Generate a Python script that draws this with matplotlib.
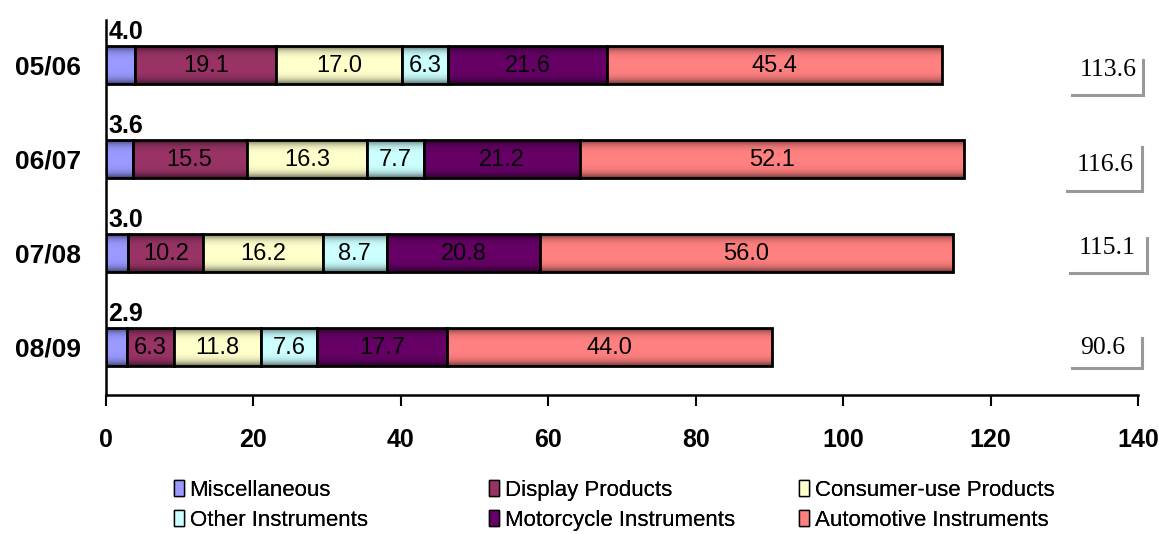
import numpy as np
import matplotlib
matplotlib.use("Agg")
import matplotlib.pyplot as plt
from matplotlib.patches import Patch
from matplotlib.lines import Line2D

periods = ["05/06", "06/07", "07/08", "08/09"]
series = ["Miscellaneous", "Display Products", "Consumer-use Products",
          "Other Instruments", "Motorcycle Instruments", "Automotive Instruments"]
misc = [4.0, 3.6, 3.0, 2.9]
display = [19.1, 15.5, 10.2, 6.3]
consumer = [17.0, 16.3, 16.2, 11.8]
other = [6.3, 7.7, 8.7, 7.6]
motorcycle = [21.6, 21.2, 20.8, 17.7]
automotive = [45.4, 52.1, 56.0, 44.0]
totals = ["113.6", "116.6", "115.1", "90.6"]
colors = ["#9999FF", "#993366", "#FFFFCC", "#CCFFFF", "#660066", "#FF8080"]

SANS = ["Liberation Sans", "DejaVu Sans"]

fig = plt.figure(figsize=(11.59, 5.34), dpi=100)
ax = fig.add_axes([106 / 1159, 1 - 395 / 534, (1138 - 106) / 1159, (395 - 20) / 534])

# vertical shading used to fake the 3D-ish bar edges
grad = np.linspace(-1, 1, 64)[:, None]
shade = np.zeros((64, 1, 4))
shade[..., 3] = (np.abs(grad) ** 4) * 0.6

data = [misc, display, consumer, other, motorcycle, automotive]
ypos = np.arange(len(periods))[::-1]
h = 0.40
left = np.zeros(len(periods))
for i, (vals, c) in enumerate(zip(data, colors)):
    vals = np.array(vals)
    bars = ax.barh(ypos, vals, h, left=left, color=c, edgecolor="black", lw=2.0, zorder=3)
    for b in bars:
        x0, y0 = b.get_x(), b.get_y()
        im = ax.imshow(shade, extent=(x0, x0 + b.get_width(), y0, y0 + b.get_height()),
                       aspect="auto", zorder=3.5, interpolation="bilinear")
        im.set_clip_path(b)
    for y, l, v in zip(ypos, left, vals):
        if i == 0:
            ax.text(l + 0.3, y + h / 2 + 0.02, f"{v:.1f}", ha="left", va="bottom",
                    fontsize=18, fontweight="bold", family=SANS, zorder=4)
        else:
            ax.text(l + v / 2, y - 0.01, f"{v:.1f}", ha="center", va="center",
                    fontsize=17, family=SANS, zorder=4)
    left = left + vals

ax.set_xlim(0, 140)
ax.set_ylim(-0.51, 3.48)
ax.set_xticks(np.arange(0, 141, 20))
ax.set_yticks(ypos)
ax.set_yticklabels(periods, fontsize=19, fontweight="bold", family=SANS)
for t in ax.get_xticklabels():
    t.set_fontsize(18); t.set_fontweight("bold"); t.set_family(SANS)
ax.tick_params(axis="x", direction="out", length=8, width=1.5, pad=16)
ax.tick_params(axis="y", length=0, pad=18)
for s in ["top", "right"]:
    ax.spines[s].set_visible(False)
ax.spines["left"].set_linewidth(1.8)
ax.spines["bottom"].set_linewidth(1.8)

# total boxes on the right (text + shadow lines)
W, H = 1159, 534
box_text = [(1108, 70), (1105, 165), (1107, 248), (1103, 348)]
box_right = [(1143, 60, 95), (1142, 147, 191), (1147, 238, 273), (1142, 338, 368)]
box_left = [1072, 1067, 1070, 1072]
for tot, (tx, ty), (rx, ry0, ry1), lx in zip(totals, box_text, box_right, box_left):
    fig.text(tx / W, 1 - ty / H, tot, ha="center", va="center", fontsize=18.5,
             family=["Liberation Serif", "DejaVu Serif"])
    fig.add_artist(Line2D([rx / W, rx / W], [1 - ry0 / H, 1 - ry1 / H],
                          color="#999999", lw=2.2))
    fig.add_artist(Line2D([lx / W, rx / W], [1 - ry1 / H, 1 - ry1 / H],
                          color="#999999", lw=2.2))

# legend: three columns placed like the original, row-wise order
handles = [Patch(facecolor=c, edgecolor="black", lw=1.0, label=s)
           for c, s in zip(colors, series)]
col_x = [174, 489, 799]
for k, cx in enumerate(col_x):
    pair = [handles[k], handles[k + 3]]
    lg = fig.legend(pair, [p.get_label() for p in pair], loc="upper left",
                    bbox_to_anchor=(cx / W, 1 - 480 / H), frameon=False,
                    handlelength=0.45, handleheight=0.7, handletextpad=0.25,
                    labelspacing=0.4, borderpad=0, borderaxespad=0,
                    prop={"family": SANS, "size": 16})
    fig.add_artist(lg)

fig.savefig("out.png", dpi=100)
